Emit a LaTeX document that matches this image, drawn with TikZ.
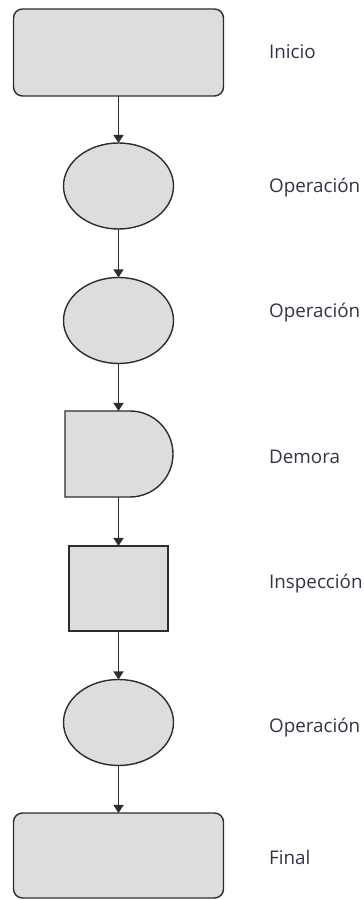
\documentclass[tikz,border=0pt]{standalone}
\usepackage{fontspec}
\setmainfont{Open Sans}
\usetikzlibrary{shapes.geometric,arrows.meta}
\definecolor{boxfill}{RGB}{220,221,223}
\definecolor{boxline}{RGB}{45,45,48}
\definecolor{labeltext}{RGB}{50,50,70}
\begin{document}
\begin{tikzpicture}[x=1pt,y=1pt,
  shapebase/.style={draw=boxline, fill=boxfill, line width=1.4pt, inner sep=0pt, outer sep=0pt},
  terminal/.style={shapebase, rectangle, rounded corners=9pt, minimum width=210pt, minimum height=87pt},
  operation/.style={shapebase, ellipse, minimum width=110pt, minimum height=86pt},
  inspection/.style={shapebase, rectangle, minimum width=99pt, minimum height=85pt},
  delaybox/.style={rectangle, inner sep=0pt, outer sep=0pt, minimum width=108pt, minimum height=86pt},
  flow/.style={draw=boxline, line width=1.3pt, -{Triangle[length=8pt,width=10pt]}},
  caption/.style={anchor=base west, text=labeltext, font=\fontsize{18.8}{20}\selectfont, inner sep=0pt}
]
\useasboundingbox (0,0) rectangle (364,900);

% process steps, top to bottom, on one vertical axis
\node[terminal]   (start) at (118.5,847.5) {};
\node[operation]  (op1)   at (118.5,714)   {};
\node[operation]  (op2)   at (118.5,579.5) {};
\node[delaybox]   (delay) at (119,446)     {};
\draw[shapebase] (delay.north west) -- ++(65,0)
  arc[start angle=90, end angle=-90, radius=43pt] -- (delay.south west) -- cycle;
\node[inspection] (insp)  at (118.5,311.5) {};
\node[operation]  (op3)   at (118.5,177.5) {};
\node[terminal, minimum height=85pt] (final) at (118.5,44.5) {};

% connectors
\draw[flow] (start.south) -- (op1.north);
\draw[flow] (op1.south) -- (op2.north);
\draw[flow] (op2.south) -- (delay.north -| op2.south);
\draw[flow] (delay.south -| op2.south) -- (insp.north);
\draw[flow] (insp.south) -- (op3.north);
\draw[flow] (op3.south) -- (final.north);

% step names
\node[caption] (lstart) at (269,841) {Inicio};
\node[caption] (lop1)   at (269,707.5) {Operación};
\node[caption] (lop2)   at (269,582) {Operación};
\node[caption] (ldelay) at (269,436.5) {Demora};
\node[caption] (linsp)  at (269,311) {Inspección};
\node[caption] (lop3)   at (269,167.5) {Operación};
\node[caption] (lfinal) at (269,35.5) {Final};
\end{tikzpicture}
\end{document}
